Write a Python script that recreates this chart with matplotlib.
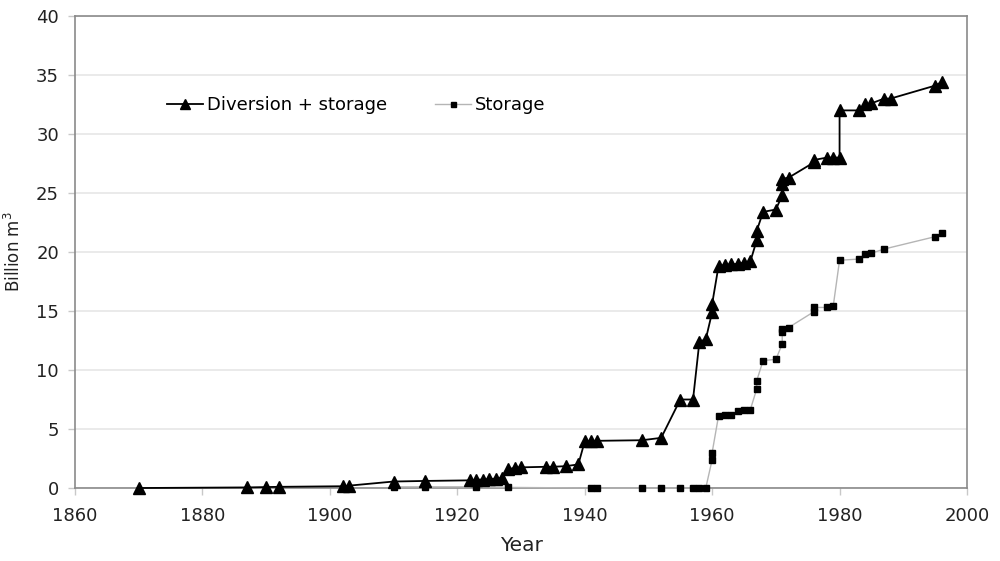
import matplotlib
matplotlib.use("Agg")
import matplotlib.pyplot as plt

div_years = [1870, 1887, 1890, 1892, 1902, 1903, 1910, 1915, 1922, 1923, 1924, 1925,
             1926, 1927, 1928, 1929, 1930, 1934, 1935, 1937, 1939, 1940, 1941, 1942,
             1949, 1952, 1955, 1957, 1958, 1959, 1960, 1960, 1961, 1962, 1963, 1964,
             1965, 1966, 1967, 1967, 1968, 1970, 1971, 1971, 1971, 1972, 1976, 1976,
             1978, 1979, 1980, 1980, 1983, 1984, 1985, 1987, 1988, 1995, 1996]
div_values = [0.0, 0.05, 0.08, 0.1, 0.15, 0.2, 0.55, 0.6, 0.65, 0.7, 0.72, 0.75,
              0.8, 0.85, 1.6, 1.7, 1.75, 1.8, 1.8, 1.85, 2.0, 3.95, 4.0, 4.0,
              4.05, 4.25, 7.5, 7.5, 12.4, 12.6, 14.9, 15.6, 18.8, 18.9, 18.95, 19.0,
              19.1, 19.2, 21.0, 21.8, 23.4, 23.6, 24.8, 25.8, 26.2, 26.3, 27.6, 27.8,
              28.0, 28.0, 28.0, 32.0, 32.0, 32.5, 32.6, 33.0, 33.0, 34.1, 34.4]

sto_years = [1910, 1915, 1923, 1928, 1941, 1942, 1949, 1952, 1955, 1957, 1958, 1959,
             1960, 1960, 1961, 1962, 1963, 1964, 1965, 1966, 1967, 1967, 1968, 1970,
             1971, 1971, 1971, 1972, 1976, 1976, 1978, 1979, 1980, 1983, 1984, 1985,
             1987, 1995, 1996]
sto_values = [0.1, 0.1, 0.1, 0.05, 0.0, 0.0, 0.0, 0.0, 0.0, 0.0, 0.0, 0.0,
              2.4, 3.0, 6.1, 6.15, 6.2, 6.5, 6.6, 6.65, 8.4, 9.1, 10.8, 10.9,
              12.2, 13.2, 13.5, 13.6, 14.95, 15.3, 15.3, 15.4, 19.3, 19.4, 19.8, 19.9,
              20.25, 21.3, 21.6]

x_ticks = [1860, 1880, 1900, 1920, 1940, 1960, 1980, 2000]
y_ticks = [0, 5, 10, 15, 20, 25, 30, 35, 40]

plt.rcParams['font.family'] = ['DejaVu Sans']

fig = plt.figure(figsize=(10, 5.61), dpi=100)
ax = fig.add_axes([0.075, 0.1301, 0.892, 0.8414])

ax.plot(sto_years, sto_values, color='#b5b5b5', lw=1.0, marker='s', ms=4.5,
        mfc='black', mec='black', label='Storage', zorder=3, clip_on=False)
ax.plot(div_years, div_values, color='black', lw=1.3, marker='^', ms=9,
        mfc='black', mec='black', label='Diversion + storage', zorder=4, clip_on=False)

ax.set_xlim(1860, 2000)
ax.set_ylim(0, 40)
ax.set_xticks(x_ticks)
ax.set_yticks(y_ticks)
ax.grid(axis='y', color='#e6e6e6', lw=1.2)
ax.set_axisbelow(True)
for s in ax.spines.values():
    s.set_color('#8a8a8a')
    s.set_linewidth(1.2)
ax.tick_params(axis='both', colors='#c8c8c8', labelcolor='#222222', labelsize=13,
               length=5, width=1)
ax.tick_params(axis='x', pad=8.5)
ax.tick_params(axis='y', pad=6.5)
ax.set_xlabel('Year', fontsize=14.5, color='#222222', labelpad=8)
ax.set_ylabel('Billion m$^3$', fontsize=12, color='#222222', labelpad=9)

h, l = ax.get_legend_handles_labels()
ax.legend([h[1], h[0]], [l[1], l[0]], loc='center left',
          bbox_to_anchor=(0.167, 0.8128), bbox_transform=fig.transFigure,
          ncol=2, frameon=False, fontsize=13, handlelength=2.0, handletextpad=0.2,
          columnspacing=2.65, markerscale=0.8, borderpad=0, borderaxespad=0)

fig.savefig('out.png', dpi=100)
